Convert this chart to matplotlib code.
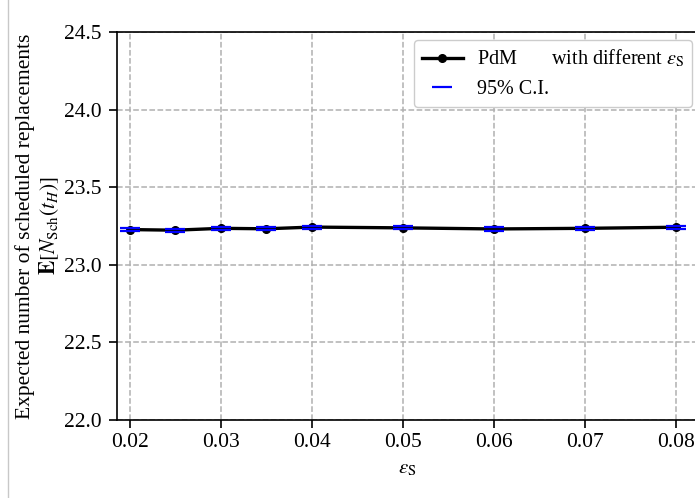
import matplotlib
matplotlib.use("Agg")
import matplotlib.pyplot as plt
import numpy as np
from matplotlib.lines import Line2D

plt.rcParams['font.family'] = 'Liberation Serif'
plt.rcParams['mathtext.fontset'] = 'stix'

# epsilon_S values and expected number of scheduled replacements
eps = [0.02, 0.025, 0.03, 0.035, 0.04, 0.05, 0.06, 0.07, 0.08]
mean = [23.227, 23.223, 23.235, 23.232, 23.243, 23.238, 23.231, 23.235, 23.242]
ci_half = [0.010, 0.010, 0.010, 0.010, 0.010, 0.010, 0.010, 0.010, 0.010]

mean = np.array(mean)
ci_half = np.array(ci_half)

fig = plt.figure(figsize=(6.95, 4.98), dpi=100)
ax = fig.add_axes([117/695, 78/498, 580/695, 388/498])

ax.plot(eps, mean, '-o', color='black', lw=2.4, ms=5.5,
        label=r'PdM       with different $\epsilon_{\rm S}$', zorder=3)
ax.plot(eps, mean - ci_half, '_', color='blue', ms=14, mew=1.6, zorder=4,
        label='95% C.I.')
ax.plot(eps, mean + ci_half, '_', color='blue', ms=14, mew=1.6, zorder=4)

ax.set_xlim(0.0186, 0.0823)
ax.set_ylim(22.0, 24.5)
ax.set_xticks([0.02, 0.03, 0.04, 0.05, 0.06, 0.07, 0.08])
ax.set_yticks([22.0, 22.5, 23.0, 23.5, 24.0, 24.5])
ax.set_xticklabels(['0.02', '0.03', '0.04', '0.05', '0.06', '0.07', '0.08'])
ax.set_yticklabels(['22.0', '22.5', '23.0', '23.5', '24.0', '24.5'])
ax.tick_params(labelsize=15.5, length=6, width=1.2)
ax.tick_params(axis='y', pad=5)
ax.grid(True, ls='--', color='#b0b0b0', lw=1.1)
ax.spines['right'].set_visible(False)
for s in ['left', 'top', 'bottom']:
    ax.spines[s].set_linewidth(1.2)

ax.set_xlabel(r'$\epsilon_{\rm S}$', fontsize=15, labelpad=5)
ax.set_ylabel('Expected number of scheduled replacements\n'
              r'$\mathbf{E}[N_{\rm Sch}(t_H)]$', fontsize=15.5, labelpad=2,
              linespacing=1.15)

ax.legend(loc='upper right', bbox_to_anchor=(692/695, 1 - 40/498),
          bbox_transform=fig.transFigure, fontsize=14.5, handlelength=2.0,
          handletextpad=0.7, framealpha=1, edgecolor='#cccccc',
          borderaxespad=0)

fig.add_artist(Line2D([8/695, 8/695], [0, 1], color='#c8c8c8', lw=1,
                      transform=fig.transFigure))

fig.savefig('out.png', dpi=100)
